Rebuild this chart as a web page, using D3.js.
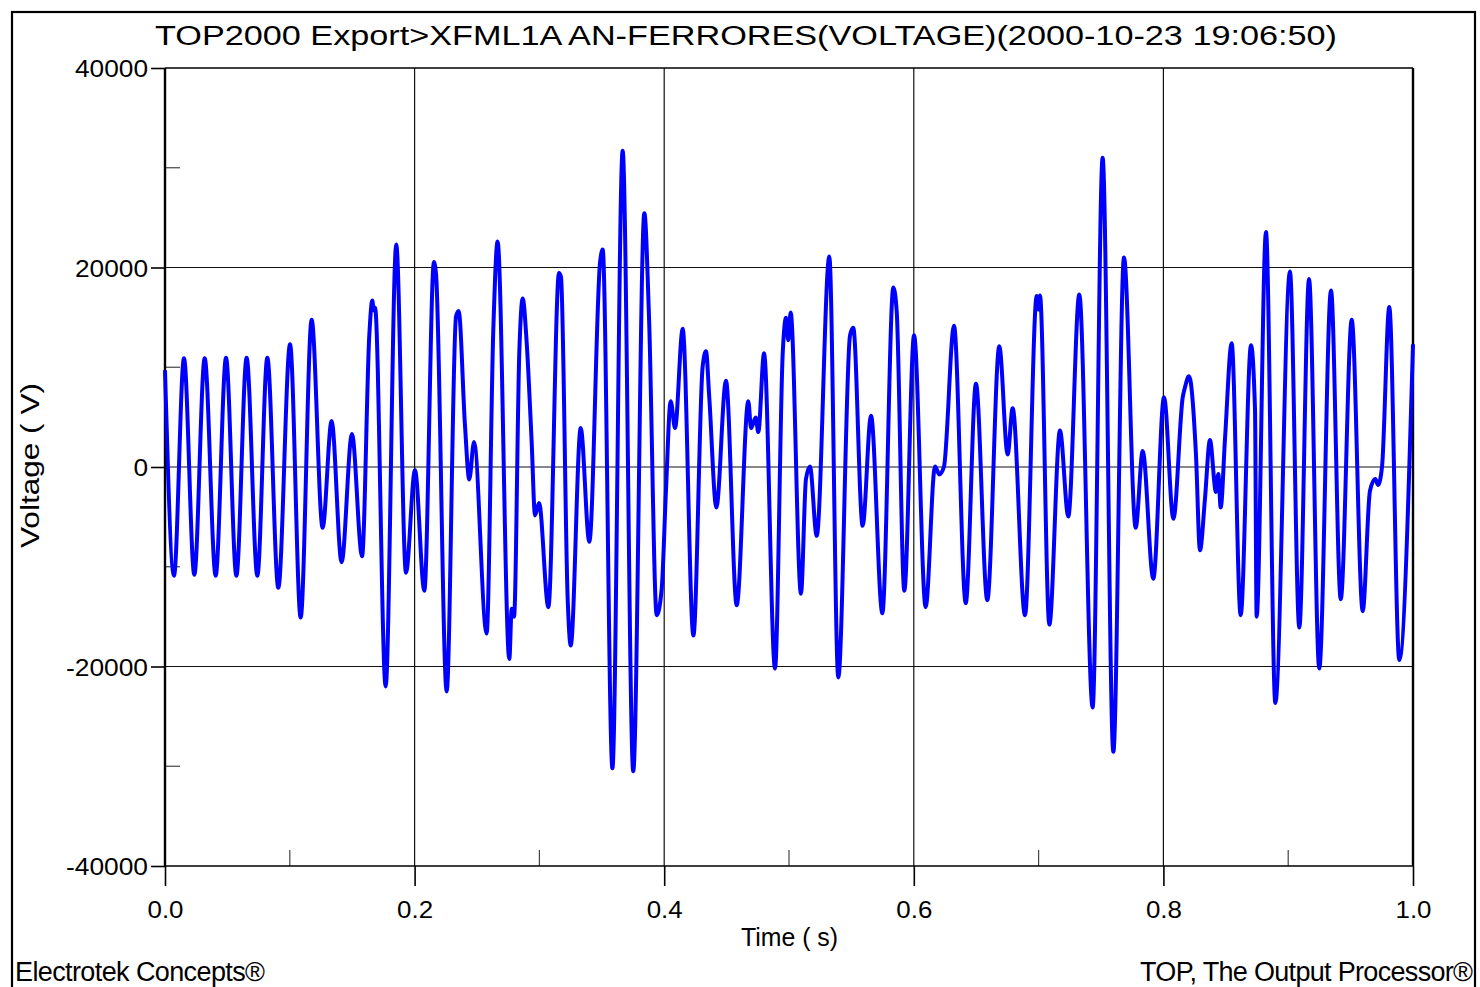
<!DOCTYPE html>
<html>
<head>
<meta charset="utf-8">
<script src="https://cdn.jsdelivr.net/npm/d3@7"></script>
<style>
  html, body { margin: 0; padding: 0; background: #fff; }
  svg { display: block; }
  text { font-family: "Liberation Sans", Arial, sans-serif; fill: #000; }
</style>
</head>
<body>
<svg id="chart" width="1480" height="987"></svg>
<script>
// Sample times (s) at the turning points and shoulders of the trace
const times = [
  0.0000, 0.0072, 0.0152, 0.0235, 0.0318, 0.0406, 0.0489, 0.0572, 0.0654, 0.0740,
  0.0820, 0.0908, 0.1002, 0.1087, 0.1175, 0.1263, 0.1335, 0.1415, 0.1498, 0.1579,
  0.1637, 0.1661, 0.1672, 0.1683, 0.1768, 0.1853, 0.1931, 0.2003, 0.2078, 0.2155,
  0.2172, 0.2257, 0.2332, 0.2353, 0.2404, 0.2438, 0.2476, 0.2577, 0.2631, 0.2665,
  0.2759, 0.2778, 0.2797, 0.2839, 0.2866, 0.2898, 0.2938, 0.2965, 0.2997, 0.3072,
  0.3157, 0.3173, 0.3227, 0.3251, 0.3331, 0.3400, 0.3486, 0.3507, 0.3585, 0.3667,
  0.3752, 0.3841, 0.3878, 0.3940, 0.3980, 0.4014, 0.4052, 0.4087, 0.4148, 0.4234,
  0.4308, 0.4335, 0.4361, 0.4418, 0.4495, 0.4581, 0.4674, 0.4696, 0.4733, 0.4754,
  0.4800, 0.4888, 0.4950, 0.4976, 0.4994, 0.5013, 0.5096, 0.5136, 0.5168, 0.5222,
  0.5323, 0.5395, 0.5489, 0.5515, 0.5590, 0.5657, 0.5748, 0.5836, 0.5863, 0.5924,
  0.6002, 0.6095, 0.6170, 0.6205, 0.6242, 0.6322, 0.6416, 0.6498, 0.6589, 0.6685,
  0.6752, 0.6792, 0.6891, 0.6985, 0.6998, 0.7011, 0.7086, 0.7171, 0.7238, 0.7326,
  0.7433, 0.7513, 0.7599, 0.7684, 0.7778, 0.7834, 0.7919, 0.8005, 0.8080, 0.8155,
  0.8173, 0.8205, 0.8261, 0.8293, 0.8333, 0.8373, 0.8421, 0.8440, 0.8459, 0.8494,
  0.8547, 0.8619, 0.8702, 0.8734, 0.8747, 0.8822, 0.8897, 0.9014, 0.9089, 0.9167,
  0.9249, 0.9343, 0.9421, 0.9509, 0.9597, 0.9655, 0.9698, 0.9720, 0.9752, 0.9810,
  0.9890, 1.0000
];

// Voltage (V) at each sample time
const volts = [
    9700, -10900,  10900, -10800,  10900, -10900,  10950, -10900,  10950, -10900,
   10950, -12100,  12300, -15100,  14750,  -6100,   4600,  -9550,   3300,  -8950,
   13200,  16700,  15700,  16000, -22000,  22300, -10600,   -300, -12400,  20550,
   19300, -22500,  15100,  15650,   4100,  -1250,   2500, -16700,  13900,  22600,
  -19250, -14200, -15000,  11500,  16900,  12500,   2500,  -4850,  -3600, -14050,
   19450,  19050, -13400, -17900,   3900,  -7500,  20500,  21800, -30200,  31700,
  -30500,  25450,  15150, -14850, -12200,  -2400,   6600,   3900,  13850, -16900,
   10050,  11600,   7000,  -4050,   8650, -13850,   6600,   3900,   4950,   3500,
   11400, -20200,  11500,  14950,  12700,  15500, -12700,  -1200,     50,  -6900,
   21100, -21100,  13200,  13950,  -5900,   5150, -14650,  18000,  15600, -12400,
   13200, -14050,     50,   -750,     50,  14150, -13650,   8350, -13350,  12100,
    1250,   5900, -14850,  17150,  15800,  17200, -15800,   3650,  -4950,  17300,
  -24100,  31000, -28550,  21000,  -6100,   1600, -11200,   7000,  -5200,   7000,
    8000,   9100,   1250,  -8350,  -3200,   2700,  -2500,   -700,  -4050,   2900,
   12400, -14850,  12200,   5800, -15000,  23550, -23650,  19600, -16100,  18850,
  -20200,  17700, -13250,  14750, -14450,  -2400,  -1200,  -1800,     50,  16050,
  -19350,  12300
];

// Axis ticks
const xMajorTicks = [0, 0.2, 0.4, 0.6, 0.8, 1.0];
const xTickLabels = ["0.0", "0.2", "0.4", "0.6", "0.8", "1.0"];
const xMinorTicks = [0.1, 0.3, 0.5, 0.7, 0.9];
const yMajorTicks = [40000, 20000, 0, -20000, -40000];
const yTickLabels = ["40000", "20000", "0", "-20000", "-40000"];
const yMinorTicks = [30000, 10000, -10000, -30000];
const xGridTicks = [0.2, 0.4, 0.6, 0.8];
const yGridTicks = [20000, 0, -20000];

const titleText = "TOP2000 Export>XFML1A AN-FERRORES(VOLTAGE)(2000-10-23 19:06:50)";
const xAxisTitle = "Time ( s)";
const yAxisTitle = "Voltage ( V)";
const footLeft = "Electrotek Concepts\u00AE";
const footRight = "TOP, The Output Processor\u00AE";

const svg = d3.select("#chart");
const plot = { left: 165, right: 1413, top: 68, bottom: 866 };

const x = d3.scaleLinear().domain([0, 1]).range([plot.left, plot.right]);
const y = d3.scaleLinear().domain([-40000, 40000]).range([plot.bottom, plot.top]);

// Fit a text element to a given width
function fit(sel, width, mode) {
  sel.attr("textLength", width).attr("lengthAdjust", mode || "spacingAndGlyphs");
  return sel;
}

// Outer frame
svg.append("rect")
  .attr("x", 12).attr("y", 12)
  .attr("width", 1463).attr("height", 1000)
  .attr("fill", "none").attr("stroke", "#000").attr("stroke-width", 2.2);

// Grid lines
const grid = svg.append("g").attr("stroke", "#111").attr("stroke-width", 1.2);
grid.selectAll("line.vx").data(xGridTicks).join("line")
  .attr("x1", d => x(d)).attr("x2", d => x(d))
  .attr("y1", plot.top).attr("y2", plot.bottom);
grid.selectAll("line.hy").data(yGridTicks).join("line")
  .attr("x1", plot.left).attr("x2", plot.right)
  .attr("y1", d => y(d)).attr("y2", d => y(d));

// Minor ticks inside the plot
const minor = svg.append("g").attr("stroke", "#444").attr("stroke-width", 1.2);
minor.selectAll("line.mx").data(xMinorTicks).join("line")
  .attr("x1", d => x(d)).attr("x2", d => x(d))
  .attr("y1", plot.bottom).attr("y2", plot.bottom - 16);
minor.selectAll("line.my").data(yMinorTicks).join("line")
  .attr("x1", plot.left).attr("x2", plot.left + 15)
  .attr("y1", d => y(d)).attr("y2", d => y(d));

// Bottom axis: major ticks below the plot
const xAxis = d3.axisBottom(x)
  .tickValues(xMajorTicks)
  .tickSize(20)
  .tickPadding(14)
  .tickFormat((d, i) => xTickLabels[i]);
const gx = svg.append("g").attr("transform", `translate(0,${plot.bottom})`).call(xAxis);
gx.select(".domain").remove();
gx.selectAll(".tick line").attr("stroke", "#000").attr("stroke-width", 1.6);
gx.selectAll(".tick text")
  .attr("font-size", 24).attr("font-family", "Liberation Sans, Arial, sans-serif")
  .attr("fill", "#000").attr("y", 52).attr("dy", null)
  .each(function () { fit(d3.select(this), 36); });

// Left axis: major ticks left of the plot
const yAxis = d3.axisLeft(y)
  .tickValues(yMajorTicks)
  .tickSize(14)
  .tickPadding(3)
  .tickFormat((d, i) => yTickLabels[i]);
const gy = svg.append("g").attr("transform", `translate(${plot.left},0)`).call(yAxis);
gy.select(".domain").remove();
gy.selectAll(".tick line").attr("stroke", "#000").attr("stroke-width", 1.6);
gy.selectAll(".tick text")
  .attr("font-size", 24).attr("font-family", "Liberation Sans, Arial, sans-serif")
  .attr("fill", "#000").attr("dy", "0.36em")
  .each(function (d, i) {
    const label = yTickLabels[i];
    const w = label.replace("-", "").length * 14.6 + (label.startsWith("-") ? 9 : 0);
    fit(d3.select(this), w);
  });

// Plot box
svg.append("line").attr("x1", plot.left).attr("x2", plot.right)
  .attr("y1", plot.top).attr("y2", plot.top).attr("stroke", "#000").attr("stroke-width", 1.4);
svg.append("line").attr("x1", plot.left).attr("x2", plot.right)
  .attr("y1", plot.bottom).attr("y2", plot.bottom).attr("stroke", "#000").attr("stroke-width", 1.6);
svg.append("line").attr("x1", plot.left).attr("x2", plot.left)
  .attr("y1", plot.top).attr("y2", plot.bottom).attr("stroke", "#000").attr("stroke-width", 2.4);
svg.append("line").attr("x1", plot.right).attr("x2", plot.right)
  .attr("y1", plot.top).attr("y2", plot.bottom).attr("stroke", "#000").attr("stroke-width", 2.4);

// Voltage trace
const series = times.map((t, i) => ({ t, v: volts[i] }));
const line = d3.line()
  .x(d => x(d.t))
  .y(d => y(d.v))
  .curve(d3.curveMonotoneX);
svg.append("path")
  .datum(series)
  .attr("d", line)
  .attr("fill", "none")
  .attr("stroke", "#0000ff")
  .attr("stroke-width", 4)
  .attr("stroke-linejoin", "round");

// Title
fit(svg.append("text")
  .attr("x", 155).attr("y", 45)
  .attr("font-size", 27)
  .text(titleText), 1182);

// Axis titles
fit(svg.append("text")
  .attr("x", 741).attr("y", 946)
  .attr("font-size", 25)
  .text(xAxisTitle), 97);

fit(svg.append("text")
  .attr("transform", "translate(39,548) rotate(-90)")
  .attr("x", 0).attr("y", 0)
  .attr("font-size", 25)
  .text(yAxisTitle), 165);

// Footer credits
fit(svg.append("text")
  .attr("x", 15).attr("y", 981)
  .attr("font-size", 27)
  .text(footLeft), 250, "spacing");

fit(svg.append("text")
  .attr("x", 1140).attr("y", 981)
  .attr("font-size", 27)
  .text(footRight), 333, "spacing");
</script>
</body>
</html>
